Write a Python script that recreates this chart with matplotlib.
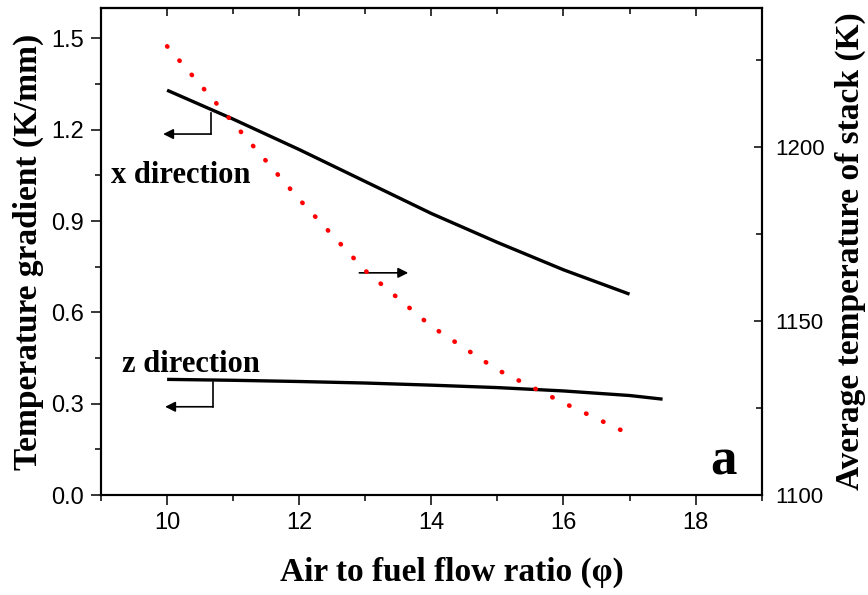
"""Temperature gradient and average stack temperature vs air to fuel ratio."""

import matplotlib

matplotlib.use("Agg")
import matplotlib.pyplot as plt
from matplotlib.ticker import FormatStrFormatter, MultipleLocator

# Values
phi_x = [10, 11, 12, 13, 14, 15, 16, 17]
grad_x = [1.33, 1.235, 1.135, 1.03, 0.925, 0.83, 0.74, 0.66]

phi_z = [10, 11, 12, 13, 14, 15, 16, 17, 17.5]
grad_z = [0.38, 0.377, 0.373, 0.368, 0.361, 0.353, 0.342, 0.327, 0.315]

phi_t = [10, 11, 12, 13, 14, 15, 16, 17]
t_stack = [1229, 1207, 1185, 1164.5, 1148.5, 1136, 1126.5, 1117.5]

plt.rcParams["font.family"] = ["Liberation Sans", "DejaVu Sans"]
SERIF = ["Liberation Serif", "DejaVu Serif"]
BOLD = dict(family=SERIF, fontweight="bold")

fig = plt.figure(figsize=(8.68, 5.95), dpi=100)
ax = fig.add_axes([0.1164, 0.168, 0.7611, 0.8185])
ax2 = ax.twinx()

ax.plot(phi_x, grad_x, color="black", lw=2.4, solid_capstyle="butt")
ax.plot(phi_z, grad_z, color="black", lw=2.4, solid_capstyle="butt")
ax2.plot(phi_t, t_stack, color="#ff0000", lw=3.3,
         linestyle=(0, (0.1, 4.0)), dash_capstyle="round")

# axis limits and ticks
ax.set_xlim(9, 19)
ax.set_ylim(0, 1.6)
ax2.set_ylim(1100, 1240)
ax.xaxis.set_major_locator(MultipleLocator(2))
ax.xaxis.set_minor_locator(MultipleLocator(1))
ax.yaxis.set_major_locator(MultipleLocator(0.3))
ax.yaxis.set_minor_locator(MultipleLocator(0.15))
ax.yaxis.set_major_formatter(FormatStrFormatter("%.1f"))
ax2.yaxis.set_major_locator(MultipleLocator(50))
ax2.yaxis.set_minor_locator(MultipleLocator(25))

for a in (ax, ax2):
    for sp in a.spines.values():
        sp.set_linewidth(1.5)

ax.tick_params(axis="x", which="both", direction="out", top=False,
               labelsize=17, pad=5, width=1.1)
ax.tick_params(axis="y", which="both", direction="out", right=False,
               labelsize=17, pad=5, width=1.1)
ax.tick_params(which="major", length=7)
ax.tick_params(which="minor", length=4.5)
ax2.tick_params(axis="y", which="both", direction="in", labelsize=16,
                pad=10, width=1.1)
ax2.tick_params(which="major", length=6)
ax2.tick_params(which="minor", length=4)

# inward ticks on the top edge
top = ax.secondary_xaxis("top")
top.xaxis.set_major_locator(MultipleLocator(2))
top.xaxis.set_minor_locator(MultipleLocator(1))
top.tick_params(which="both", direction="in", labeltop=False, width=1.1)
top.tick_params(which="major", length=6)
top.tick_params(which="minor", length=4.5)
top.spines["top"].set_linewidth(1.5)

ax.set_xlabel("Air to fuel flow ratio (φ)", fontsize=24, va="center", **BOLD)
ax.xaxis.set_label_coords(0.531, -0.158)
ax.set_ylabel("Temperature gradient (K/mm)", fontsize=24, va="center", **BOLD)
ax.yaxis.set_label_coords(-0.11, 0.5)
ax2.set_ylabel("Average temperature of stack (K)", fontsize=24, rotation=90,
               va="center", **BOLD)
ax2.yaxis.set_label_coords(1.1336, 0.5)

# curve annotations with pointer arrows
arrow = dict(arrowstyle="-|>", lw=1.2, color="black", mutation_scale=15,
             shrinkA=0, shrinkB=0)
ax.plot([10.666, 10.666], [1.255, 1.186], color="black", lw=1.2)
ax.annotate("", xy=(9.94, 1.186), xytext=(10.666, 1.186), arrowprops=arrow)
ax.plot([10.69, 10.69], [0.372, 0.290], color="black", lw=1.2)
ax.annotate("", xy=(9.97, 0.290), xytext=(10.69, 0.290), arrowprops=arrow)
ax.annotate("", xy=(13.65, 0.730), xytext=(12.91, 0.730), arrowprops=arrow)

ax.text(9.153, 1.026, "x direction", fontsize=22, va="baseline", **BOLD)
ax.text(9.315, 0.405, "z direction", fontsize=22, va="baseline", **BOLD)
ax.text(18.62, 0.066, "a", fontsize=38, ha="right", va="baseline", **BOLD)

fig.savefig("out.png", dpi=100)
